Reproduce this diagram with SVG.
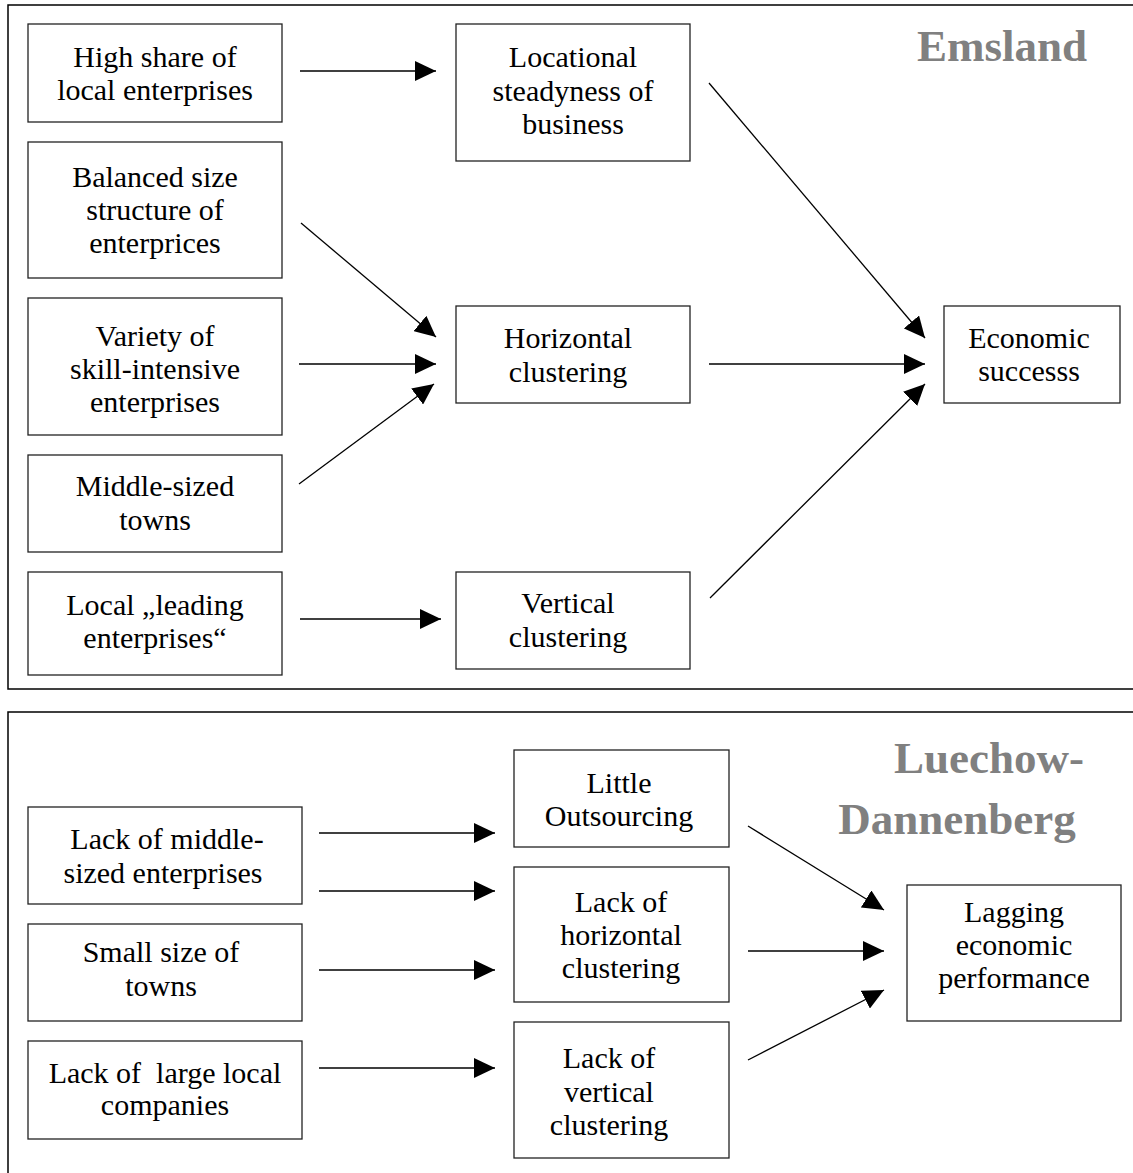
<svg xmlns="http://www.w3.org/2000/svg" width="1133" height="1173" viewBox="0 0 1133 1173">
<style>
.panel{fill:none;stroke:#000;stroke-width:1.5}
.box{fill:#fff;stroke:#222;stroke-width:1.3}
.t{font-family:"Liberation Serif","Times New Roman",serif;font-size:30px;fill:#000;text-anchor:middle;white-space:pre}
.title{font-family:"Liberation Serif","Times New Roman",serif;font-size:45px;font-weight:bold;fill:#808080;text-anchor:middle}
.c{stroke:#000;stroke-width:1.3;fill:none;marker-end:url(#ah)}
</style>
<defs>
<marker id="ah" markerUnits="userSpaceOnUse" markerWidth="22" markerHeight="20" refX="21" refY="10" orient="auto">
<path d="M0,0 L21,10 L0,20 Z" fill="#000"/>
</marker>
</defs>
<rect width="1133" height="1173" fill="#fff"/>
<g id="panel-emsland">
<rect class="panel" x="8" y="5" width="1140" height="684"/>
<text class="title" x="1002" y="61">Emsland</text>
</g>
<g id="panel-luechow">
<rect class="panel" x="8" y="712" width="1140" height="480"/>
<text class="title" x="989" y="773">Luechow-</text>
<text class="title" x="957" y="834">Dannenberg</text>
</g>
<g id="connectors">
<line class="c" x1="300" y1="71" x2="436" y2="71"/>
<line class="c" x1="301" y1="223" x2="436" y2="337"/>
<line class="c" x1="299" y1="364" x2="436" y2="364"/>
<line class="c" x1="299" y1="484" x2="434" y2="384"/>
<line class="c" x1="300" y1="619" x2="441" y2="619"/>
<line class="c" x1="709" y1="83" x2="925" y2="338"/>
<line class="c" x1="709" y1="364" x2="925" y2="364"/>
<line class="c" x1="710" y1="598" x2="925" y2="384"/>
<line class="c" x1="319" y1="833" x2="495" y2="833"/>
<line class="c" x1="319" y1="891" x2="495" y2="891"/>
<line class="c" x1="319" y1="970" x2="495" y2="970"/>
<line class="c" x1="319" y1="1068" x2="495" y2="1068"/>
<line class="c" x1="748" y1="826" x2="884" y2="910"/>
<line class="c" x1="748" y1="951" x2="884" y2="951"/>
<line class="c" x1="748" y1="1060" x2="884" y2="990"/>
</g>
<g id="n-high-share">
<rect class="box" x="28" y="24" width="254" height="98"/>
<text class="t" x="155" y="67">High share of</text>
<text class="t" x="155" y="100">local enterprises</text>
</g>
<g id="n-locational">
<rect class="box" x="456" y="24" width="234" height="137"/>
<text class="t" x="573" y="67">Locational</text>
<text class="t" x="573" y="101">steadyness of</text>
<text class="t" x="573" y="134">business</text>
</g>
<g id="n-balanced">
<rect class="box" x="28" y="142" width="254" height="136"/>
<text class="t" x="155" y="187">Balanced size</text>
<text class="t" x="155" y="220">structure of</text>
<text class="t" x="155" y="253">enterprices</text>
</g>
<g id="n-variety">
<rect class="box" x="28" y="298" width="254" height="137"/>
<text class="t" x="155" y="346">Variety of</text>
<text class="t" x="155" y="379">skill-intensive</text>
<text class="t" x="155" y="412">enterprises</text>
</g>
<g id="n-middle-towns">
<rect class="box" x="28" y="455" width="254" height="97"/>
<text class="t" x="155" y="496">Middle-sized</text>
<text class="t" x="155" y="530">towns</text>
</g>
<g id="n-local-leading">
<rect class="box" x="28" y="572" width="254" height="103"/>
<text class="t" x="155" y="615">Local „leading</text>
<text class="t" x="155" y="648">enterprises“</text>
</g>
<g id="n-horizontal">
<rect class="box" x="456" y="306" width="234" height="97"/>
<text class="t" x="568" y="348">Horizontal</text>
<text class="t" x="568" y="382">clustering</text>
</g>
<g id="n-vertical">
<rect class="box" x="456" y="572" width="234" height="97"/>
<text class="t" x="568" y="613">Vertical</text>
<text class="t" x="568" y="647">clustering</text>
</g>
<g id="n-economic">
<rect class="box" x="944" y="306" width="176" height="97"/>
<text class="t" x="1029" y="348">Economic</text>
<text class="t" x="1029" y="381">successs</text>
</g>
<g id="n-lack-middle">
<rect class="box" x="28" y="807" width="274" height="97"/>
<text class="t" x="167" y="849">Lack of middle-</text>
<text class="t" x="163" y="883">sized enterprises</text>
</g>
<g id="n-small-towns">
<rect class="box" x="28" y="924" width="274" height="97"/>
<text class="t" x="161" y="962">Small size of</text>
<text class="t" x="161" y="996">towns</text>
</g>
<g id="n-lack-large">
<rect class="box" x="28" y="1041" width="274" height="98"/>
<text class="t" x="165" y="1083">Lack of  large local</text>
<text class="t" x="165" y="1115">companies</text>
</g>
<g id="n-little-outsourcing">
<rect class="box" x="514" y="750" width="215" height="97"/>
<text class="t" x="619" y="793">Little</text>
<text class="t" x="619" y="826">Outsourcing</text>
</g>
<g id="n-lack-horizontal">
<rect class="box" x="514" y="867" width="215" height="135"/>
<text class="t" x="621" y="912">Lack of</text>
<text class="t" x="621" y="945">horizontal</text>
<text class="t" x="621" y="978">clustering</text>
</g>
<g id="n-lack-vertical">
<rect class="box" x="514" y="1022" width="215" height="136"/>
<text class="t" x="609" y="1068">Lack of</text>
<text class="t" x="609" y="1102">vertical</text>
<text class="t" x="609" y="1135">clustering</text>
</g>
<g id="n-lagging">
<rect class="box" x="907" y="885" width="214" height="136"/>
<text class="t" x="1014" y="922">Lagging</text>
<text class="t" x="1014" y="955">economic</text>
<text class="t" x="1014" y="988">performance</text>
</g>
</svg>
